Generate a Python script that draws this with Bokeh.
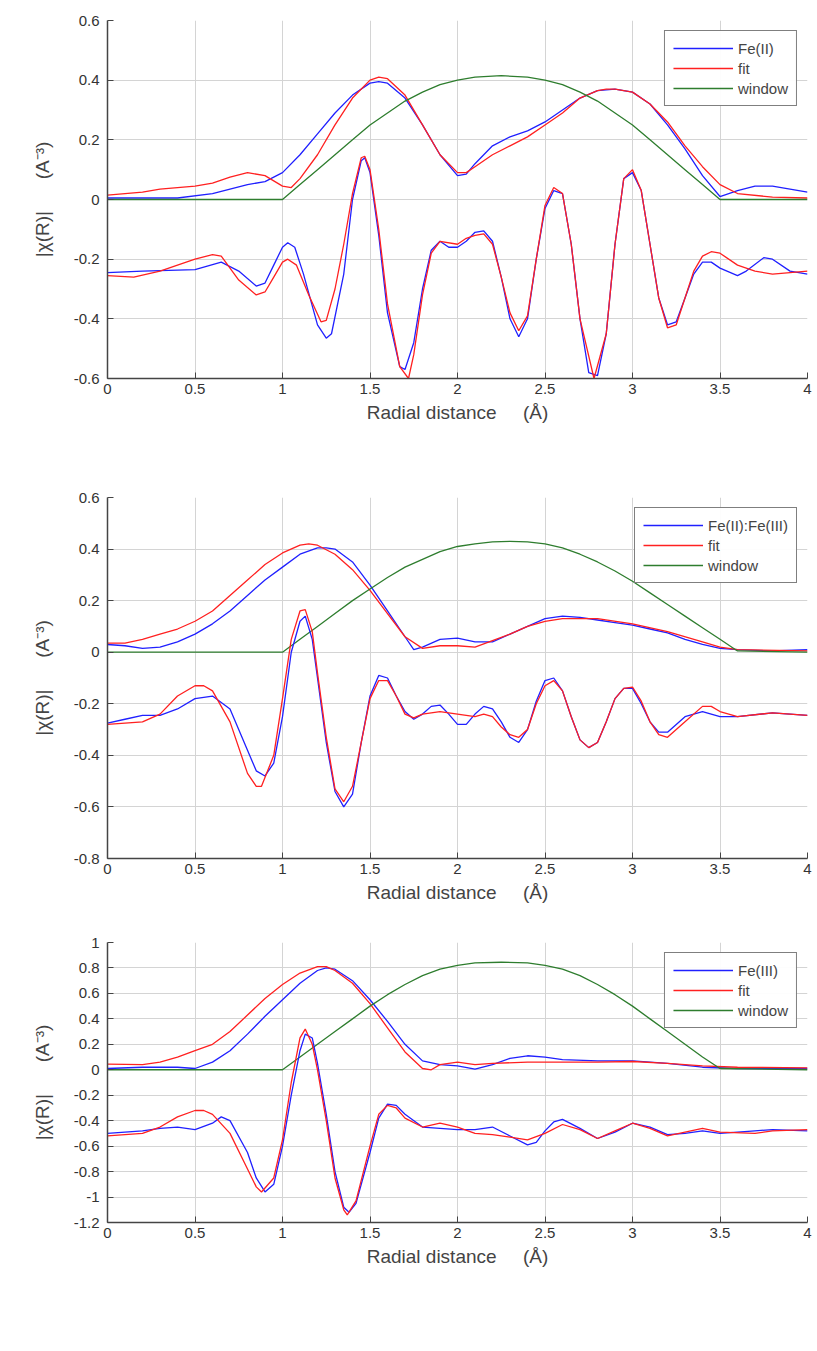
from bokeh.plotting import figure
from bokeh.layouts import column
from bokeh.models import Range1d, FixedTicker, Legend, LegendItem
from bokeh.embed import file_html
from bokeh.resources import INLINE

# ---------- Panel 1: Fe(II) ----------
p1_mag_x = [0,0.4,0.6,0.8,0.9,1.0,1.1,1.2,1.3,1.4,1.5,1.55,1.6,1.7,1.8,1.9,2.0,2.05,2.1,2.2,2.3,2.4,2.5,2.6,2.7,2.8,2.9,3.0,3.1,3.2,3.3,3.4,3.5,3.6,3.7,3.8,3.9,4.0]
p1_mag_y = [0.005,0.005,0.02,0.05,0.06,0.09,0.15,0.22,0.29,0.35,0.39,0.395,0.39,0.34,0.25,0.15,0.08,0.085,0.12,0.18,0.21,0.23,0.26,0.3,0.34,0.365,0.37,0.36,0.32,0.25,0.17,0.08,0.01,0.03,0.045,0.045,0.035,0.025]
p1_fitm_x = [0,0.2,0.3,0.5,0.6,0.7,0.8,0.9,1.0,1.05,1.1,1.2,1.3,1.4,1.5,1.55,1.6,1.7,1.8,1.9,2.0,2.05,2.1,2.2,2.3,2.4,2.5,2.6,2.7,2.8,2.85,2.9,3.0,3.1,3.2,3.3,3.4,3.5,3.6,3.8,4.0]
p1_fitm_y = [0.015,0.025,0.035,0.045,0.055,0.075,0.09,0.08,0.045,0.04,0.07,0.15,0.25,0.34,0.40,0.41,0.405,0.35,0.25,0.15,0.09,0.09,0.11,0.15,0.18,0.21,0.25,0.29,0.34,0.365,0.37,0.37,0.36,0.32,0.26,0.18,0.11,0.05,0.02,0.008,0.005]
p1_win_x = [0,1.0,1.1,1.2,1.3,1.4,1.5,1.6,1.7,1.8,1.9,2.0,2.1,2.25,2.4,2.5,2.6,2.7,2.8,2.9,3.0,3.1,3.2,3.3,3.4,3.5,4.0]
p1_win_y = [0,0,0.05,0.1,0.15,0.2,0.25,0.29,0.33,0.36,0.385,0.4,0.41,0.415,0.41,0.4,0.385,0.36,0.33,0.29,0.25,0.2,0.15,0.1,0.05,0,0]
p1_re_x = [0,0.2,0.5,0.65,0.75,0.85,0.9,0.95,1.0,1.03,1.07,1.12,1.2,1.25,1.28,1.35,1.4,1.45,1.47,1.5,1.55,1.6,1.67,1.7,1.75,1.8,1.85,1.9,1.95,2.0,2.05,2.1,2.15,2.2,2.25,2.3,2.35,2.4,2.45,2.5,2.55,2.6,2.65,2.7,2.75,2.8,2.85,2.9,2.95,3.0,3.05,3.1,3.15,3.2,3.25,3.3,3.35,3.4,3.45,3.5,3.6,3.65,3.75,3.8,3.9,4.0]
p1_re_y = [-0.245,-0.24,-0.235,-0.21,-0.24,-0.29,-0.28,-0.22,-0.16,-0.145,-0.16,-0.25,-0.42,-0.465,-0.45,-0.25,0.0,0.13,0.14,0.09,-0.12,-0.38,-0.56,-0.57,-0.48,-0.3,-0.17,-0.14,-0.16,-0.16,-0.14,-0.11,-0.105,-0.14,-0.26,-0.4,-0.46,-0.4,-0.2,-0.03,0.03,0.02,-0.15,-0.4,-0.58,-0.59,-0.45,-0.15,0.07,0.09,0.03,-0.15,-0.33,-0.42,-0.41,-0.33,-0.25,-0.21,-0.21,-0.23,-0.255,-0.24,-0.195,-0.2,-0.24,-0.25]
p1_fitr_x = [0,0.15,0.3,0.5,0.6,0.65,0.75,0.85,0.9,0.95,1.0,1.03,1.08,1.15,1.22,1.25,1.3,1.35,1.4,1.45,1.47,1.5,1.55,1.6,1.67,1.72,1.75,1.8,1.85,1.9,2.0,2.05,2.1,2.15,2.2,2.25,2.3,2.35,2.4,2.45,2.5,2.55,2.6,2.65,2.7,2.78,2.85,2.9,2.95,3.0,3.05,3.1,3.15,3.2,3.25,3.3,3.35,3.4,3.45,3.5,3.6,3.7,3.8,4.0]
p1_fitr_y = [-0.255,-0.26,-0.24,-0.2,-0.185,-0.19,-0.27,-0.32,-0.31,-0.26,-0.21,-0.2,-0.22,-0.32,-0.41,-0.405,-0.3,-0.15,0.02,0.14,0.145,0.1,-0.1,-0.35,-0.56,-0.6,-0.52,-0.32,-0.18,-0.14,-0.15,-0.13,-0.12,-0.115,-0.15,-0.26,-0.38,-0.44,-0.39,-0.2,-0.02,0.04,0.02,-0.15,-0.4,-0.6,-0.45,-0.15,0.07,0.1,0.03,-0.15,-0.33,-0.43,-0.42,-0.33,-0.24,-0.19,-0.175,-0.18,-0.22,-0.24,-0.25,-0.24]

# ---------- Panel 2: Fe(II):Fe(III) ----------
p2_mag_x = [0,0.1,0.2,0.3,0.4,0.5,0.6,0.7,0.8,0.9,1.0,1.1,1.2,1.25,1.3,1.4,1.5,1.6,1.7,1.75,1.8,1.9,2.0,2.1,2.2,2.3,2.4,2.5,2.6,2.7,2.8,2.9,3.0,3.1,3.2,3.3,3.4,3.5,3.6,3.8,4.0]
p2_mag_y = [0.03,0.025,0.015,0.02,0.04,0.07,0.11,0.16,0.22,0.28,0.33,0.38,0.405,0.405,0.4,0.35,0.26,0.16,0.06,0.01,0.02,0.05,0.055,0.04,0.04,0.07,0.1,0.13,0.14,0.135,0.125,0.115,0.105,0.09,0.075,0.05,0.03,0.015,0.01,0.005,0.01]
p2_fitm_x = [0,0.1,0.2,0.3,0.4,0.5,0.6,0.7,0.8,0.9,1.0,1.1,1.15,1.2,1.3,1.4,1.5,1.6,1.7,1.8,1.9,2.0,2.1,2.2,2.3,2.4,2.5,2.6,2.8,3.0,3.2,3.4,3.5,3.6,4.0]
p2_fitm_y = [0.035,0.035,0.05,0.07,0.09,0.12,0.16,0.22,0.28,0.34,0.385,0.415,0.42,0.415,0.38,0.32,0.24,0.15,0.06,0.015,0.025,0.025,0.02,0.045,0.07,0.1,0.12,0.13,0.13,0.11,0.08,0.04,0.02,0.01,0.005]
p2_win_x = [0,1.0,1.1,1.2,1.3,1.4,1.5,1.6,1.7,1.8,1.9,2.0,2.1,2.2,2.3,2.4,2.5,2.6,2.7,2.8,2.9,3.0,3.1,3.2,3.3,3.4,3.5,3.6,4.0]
p2_win_y = [0,0,0.05,0.1,0.15,0.2,0.245,0.29,0.33,0.36,0.39,0.41,0.42,0.428,0.43,0.428,0.42,0.405,0.38,0.35,0.315,0.275,0.23,0.185,0.14,0.095,0.05,0.005,0]
p2_re_x = [0,0.1,0.2,0.3,0.4,0.5,0.6,0.7,0.8,0.85,0.9,0.95,1.0,1.05,1.1,1.13,1.17,1.2,1.25,1.3,1.35,1.4,1.45,1.5,1.55,1.6,1.65,1.7,1.75,1.8,1.85,1.9,1.95,2.0,2.05,2.1,2.15,2.2,2.25,2.3,2.35,2.4,2.45,2.5,2.55,2.6,2.65,2.7,2.75,2.8,2.85,2.9,2.95,3.0,3.05,3.1,3.15,3.2,3.3,3.4,3.5,3.6,3.8,4.0]
p2_re_y = [-0.275,-0.26,-0.245,-0.245,-0.22,-0.18,-0.17,-0.22,-0.38,-0.46,-0.48,-0.43,-0.25,0.0,0.12,0.14,0.05,-0.1,-0.35,-0.54,-0.6,-0.55,-0.35,-0.17,-0.09,-0.1,-0.17,-0.23,-0.26,-0.24,-0.21,-0.205,-0.24,-0.28,-0.28,-0.24,-0.21,-0.22,-0.27,-0.33,-0.35,-0.3,-0.19,-0.11,-0.1,-0.15,-0.25,-0.34,-0.37,-0.35,-0.27,-0.18,-0.14,-0.14,-0.2,-0.27,-0.31,-0.31,-0.25,-0.23,-0.25,-0.25,-0.235,-0.245]
p2_fitr_x = [0,0.2,0.3,0.4,0.5,0.55,0.6,0.7,0.8,0.85,0.88,0.95,1.0,1.05,1.1,1.13,1.17,1.2,1.25,1.3,1.35,1.4,1.45,1.5,1.55,1.6,1.65,1.7,1.75,1.8,1.9,2.0,2.1,2.15,2.2,2.25,2.3,2.35,2.4,2.45,2.5,2.55,2.6,2.65,2.7,2.75,2.8,2.85,2.9,2.95,3.0,3.05,3.1,3.15,3.2,3.3,3.4,3.45,3.5,3.6,3.8,4.0]
p2_fitr_y = [-0.28,-0.27,-0.24,-0.17,-0.13,-0.13,-0.15,-0.27,-0.47,-0.52,-0.52,-0.4,-0.18,0.05,0.16,0.165,0.08,-0.08,-0.33,-0.53,-0.58,-0.52,-0.35,-0.18,-0.11,-0.11,-0.17,-0.24,-0.255,-0.24,-0.23,-0.24,-0.25,-0.24,-0.25,-0.29,-0.32,-0.33,-0.3,-0.2,-0.13,-0.11,-0.15,-0.25,-0.34,-0.37,-0.35,-0.27,-0.18,-0.14,-0.135,-0.19,-0.27,-0.32,-0.33,-0.27,-0.21,-0.21,-0.23,-0.25,-0.235,-0.245]

# ---------- Panel 3: Fe(III) ----------
p3_mag_x = [0,0.2,0.4,0.5,0.6,0.7,0.8,0.9,1.0,1.1,1.2,1.25,1.3,1.4,1.5,1.6,1.7,1.8,1.9,2.0,2.1,2.2,2.3,2.4,2.5,2.6,2.8,3.0,3.2,3.4,3.6,4.0]
p3_mag_y = [0.01,0.02,0.02,0.01,0.06,0.15,0.28,0.42,0.55,0.68,0.78,0.8,0.79,0.7,0.55,0.38,0.2,0.07,0.04,0.03,0.005,0.04,0.09,0.11,0.1,0.08,0.07,0.07,0.05,0.02,0.01,0.01]
p3_fitm_x = [0,0.2,0.3,0.4,0.5,0.6,0.7,0.8,0.9,1.0,1.1,1.2,1.25,1.3,1.4,1.5,1.6,1.7,1.8,1.85,1.9,2.0,2.1,2.2,2.4,2.6,2.8,3.0,3.2,3.4,3.6,4.0]
p3_fitm_y = [0.045,0.04,0.06,0.1,0.15,0.2,0.3,0.43,0.56,0.67,0.76,0.81,0.81,0.78,0.68,0.52,0.33,0.14,0.01,0.0,0.04,0.06,0.04,0.05,0.06,0.06,0.06,0.065,0.05,0.03,0.02,0.015]
p3_win_x = [0,1.0,1.1,1.2,1.3,1.4,1.5,1.6,1.7,1.8,1.9,2.0,2.1,2.25,2.4,2.5,2.6,2.7,2.8,2.9,3.0,3.1,3.2,3.3,3.4,3.5,4.0]
p3_win_y = [0,0,0.1,0.2,0.3,0.4,0.5,0.59,0.67,0.74,0.79,0.82,0.84,0.845,0.84,0.82,0.79,0.74,0.67,0.59,0.5,0.4,0.3,0.2,0.1,0.01,0]
p3_re_x = [0,0.2,0.3,0.4,0.5,0.6,0.65,0.7,0.8,0.85,0.9,0.95,1.0,1.05,1.1,1.13,1.17,1.2,1.25,1.3,1.35,1.38,1.42,1.5,1.55,1.6,1.65,1.7,1.8,1.9,2.0,2.1,2.2,2.3,2.4,2.45,2.5,2.55,2.6,2.7,2.8,2.9,3.0,3.1,3.2,3.3,3.4,3.5,3.7,3.8,4.0]
p3_re_y = [-0.5,-0.48,-0.46,-0.45,-0.47,-0.42,-0.37,-0.4,-0.65,-0.85,-0.96,-0.9,-0.6,-0.2,0.15,0.28,0.25,0.05,-0.35,-0.8,-1.08,-1.12,-1.05,-0.65,-0.38,-0.27,-0.28,-0.35,-0.45,-0.46,-0.47,-0.47,-0.45,-0.52,-0.59,-0.57,-0.48,-0.41,-0.39,-0.46,-0.54,-0.49,-0.42,-0.45,-0.51,-0.5,-0.48,-0.5,-0.48,-0.47,-0.48]
p3_fitr_x = [0,0.2,0.3,0.4,0.5,0.55,0.6,0.7,0.8,0.85,0.88,0.95,1.0,1.05,1.1,1.13,1.17,1.2,1.25,1.3,1.35,1.37,1.42,1.5,1.55,1.6,1.65,1.7,1.8,1.9,2.0,2.1,2.2,2.3,2.4,2.5,2.6,2.7,2.8,2.9,3.0,3.1,3.2,3.3,3.4,3.5,3.7,3.8,4.0]
p3_fitr_y = [-0.52,-0.5,-0.45,-0.37,-0.32,-0.32,-0.35,-0.5,-0.78,-0.92,-0.96,-0.85,-0.55,-0.1,0.25,0.32,0.2,0.0,-0.4,-0.85,-1.1,-1.14,-1.03,-0.6,-0.35,-0.28,-0.3,-0.38,-0.45,-0.42,-0.45,-0.5,-0.51,-0.53,-0.55,-0.5,-0.43,-0.47,-0.54,-0.48,-0.42,-0.46,-0.52,-0.49,-0.46,-0.49,-0.5,-0.48,-0.47]

x_ticks = [0, 0.5, 1, 1.5, 2, 2.5, 3, 3.5, 4]
FONT = "Liberation Sans"
BLUE, RED, GREEN = "#2020ff", "#ff2020", "#2e7d2e"
NB = "\u00a0"


def panel(h, top, bottom, ymin, ymax, ystep_ticks, label, mag, fitm, win, re, fitr):
    p = figure(width=815, height=h, output_backend="svg", toolbar_location=None,
               x_range=Range1d(0, 4), y_range=Range1d(ymin, ymax),
               min_border_left=107, min_border_right=8, min_border_top=top, min_border_bottom=bottom)
    p.outline_line_color = None
    p.xaxis.ticker = FixedTicker(ticks=x_ticks)
    p.yaxis.ticker = FixedTicker(ticks=ystep_ticks)
    p.xaxis.major_label_overrides = {t: (str(t) if t != int(t) else str(int(t))) for t in x_ticks}
    p.yaxis.major_label_overrides = {t: ("%g" % t) for t in ystep_ticks}
    for ax in (p.xaxis, p.yaxis):
        ax.major_tick_in = 6
        ax.major_tick_out = 0
        ax.minor_tick_line_color = None
        ax.axis_line_color = "#444444"
        ax.axis_line_width = 1.5
        ax.major_tick_line_color = "#444444"
        ax.major_label_text_font = FONT
        ax.major_label_text_font_size = "15px"
        ax.major_label_text_color = "#333333"
        ax.axis_label_text_font = FONT
        ax.axis_label_text_font_style = "normal"
        ax.axis_label_text_font_size = "19px"
    p.yaxis.major_label_standoff = 8
    p.yaxis.axis_label_standoff = 18
    p.xaxis.axis_label = "Radial distance" + NB * 5 + "(Å)"
    p.yaxis.axis_label = "|χ(R)|" + NB * 6 + "(A⁻³)"
    p.grid.grid_line_color = "#d4d4d4"
    p.xgrid.ticker = FixedTicker(ticks=x_ticks)
    p.ygrid.ticker = FixedTicker(ticks=ystep_ticks)
    r1 = p.line(mag[0], mag[1], color=BLUE, line_width=1.3)
    r2 = p.line(fitm[0], fitm[1], color=RED, line_width=1.3)
    r3 = p.line(win[0], win[1], color=GREEN, line_width=1.3)
    p.line(re[0], re[1], color=BLUE, line_width=1.3)
    p.line(fitr[0], fitr[1], color=RED, line_width=1.3)
    leg = Legend(items=[LegendItem(label=label, renderers=[r1]),
                        LegendItem(label="fit", renderers=[r2]),
                        LegendItem(label="window", renderers=[r3])],
                 location="top_right", border_line_color="black", border_line_width=1,
                 label_text_font=FONT, label_text_font_size="15px",
                 glyph_width=60, spacing=2, padding=8, margin=10,
                 label_height=18, glyph_height=18)
    p.add_layout(leg)
    return p


f1 = panel(443, 20, 65, -0.6, 0.6, [-0.6, -0.4, -0.2, 0, 0.2, 0.4, 0.6], "Fe(II)",
           (p1_mag_x, p1_mag_y), (p1_fitm_x, p1_fitm_y), (p1_win_x, p1_win_y),
           (p1_re_x, p1_re_y), (p1_fitr_x, p1_fitr_y))
f2 = panel(465, 54, 50, -0.8, 0.6, [-0.8, -0.6, -0.4, -0.2, 0, 0.2, 0.4, 0.6], "Fe(II):Fe(III)",
           (p2_mag_x, p2_mag_y), (p2_fitm_x, p2_fitm_y), (p2_win_x, p2_win_y),
           (p2_re_x, p2_re_y), (p2_fitr_x, p2_fitr_y))
f3 = panel(370, 34, 56, -1.2, 1.0, [-1.2, -1, -0.8, -0.6, -0.4, -0.2, 0, 0.2, 0.4, 0.6, 0.8, 1], "Fe(III)",
           (p3_mag_x, p3_mag_y), (p3_fitm_x, p3_fitm_y), (p3_win_x, p3_win_y),
           (p3_re_x, p3_re_y), (p3_fitr_x, p3_fitr_y))

lay = column(f1, f2, f3, spacing=0)
open("out.html", "w").write(file_html(lay, INLINE))
